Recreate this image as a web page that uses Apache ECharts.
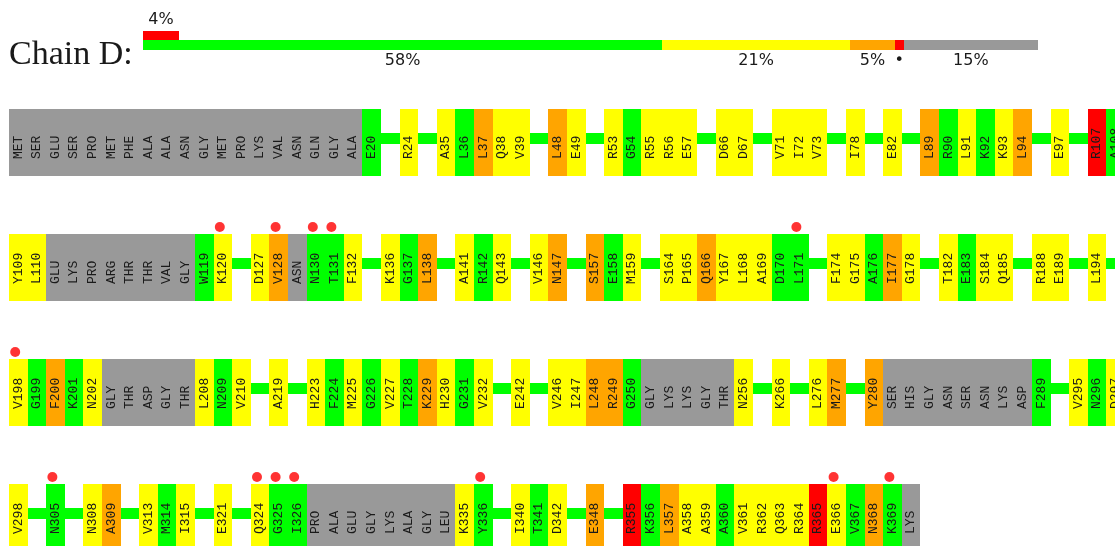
<!DOCTYPE html>
<html><head><meta charset="utf-8">
<script src="https://cdn.jsdelivr.net/npm/echarts@6/dist/echarts.min.js"></script>
<style>html,body{margin:0;padding:0;background:#fff}#c{width:1115px;height:546px}</style>
</head><body><div id="c"></div>
<script>
// ---------------- data ----------------
const chainLabel = 'Chain D:';
const summaryClasses = ['g', 'y', 'o', 'r', 'x'];
const summaryPercents = [58, 21, 5, 1, 15];
const summaryLabels = ['58%', '21%', '5%', '•', '15%'];
const outlierPercent = 4;
const outlierLabel = '4%';

const row1Residues = ['MET','SER','GLU','SER','PRO','MET','PHE','ALA','ALA','ASN','GLY','MET','PRO','LYS','VAL','ASN','GLN','GLY','ALA','E20','','R24','','A35','L36','L37','Q38','V39','','L48','E49','','R53','G54','R55','R56','E57','','D66','D67','','V71','I72','V73','','I78','','E82','','L89','R90','L91','K92','K93','L94','','E97','','R107','A108'];
const row1Quality  = ['x','x','x','x','x','x','x','x','x','x','x','x','x','x','x','x','x','x','x','g','-','y','-','y','g','o','y','y','-','o','y','-','y','g','y','y','y','-','y','y','-','y','y','y','-','y','-','y','-','o','g','y','g','y','o','-','y','-','r','g'];

const row2Residues = ['Y109','L110','GLU','LYS','PRO','ARG','THR','THR','VAL','GLY','W119','K120','','D127','V128','ASN','N130','T131','F132','','K136','G137','L138','','A141','R142','Q143','','V146','N147','','S157','E158','M159','','S164','P165','Q166','Y167','L168','A169','D170','L171','','F174','G175','A176','I177','G178','','T182','E183','S184','Q185','','R188','E189','','L194',''];
const row2Quality  = ['y','y','x','x','x','x','x','x','x','x','g','y','-','y','o','x','g','g','y','-','y','g','o','-','y','g','y','-','y','o','-','o','g','y','-','y','y','o','y','y','y','g','g','-','y','y','g','o','y','-','y','g','y','y','-','y','y','-','y','-'];

const row3Residues = ['V198','G199','F200','K201','N202','GLY','THR','ASP','GLY','THR','L208','N209','V210','','A219','','H223','F224','M225','G226','V227','T228','K229','H230','G231','V232','','E242','','V246','I247','L248','R249','G250','GLY','LYS','LYS','GLY','THR','N256','','K266','','L276','M277','','Y280','SER','HIS','GLY','ASN','SER','ASN','LYS','ASP','F289','','V295','N296','D297'];
const row3Quality  = ['y','g','o','g','y','x','x','x','x','x','y','g','y','-','y','-','y','g','y','g','y','g','o','y','g','y','-','y','-','y','y','o','o','g','x','x','x','x','x','y','-','y','-','y','o','-','o','x','x','x','x','x','x','x','x','g','-','y','g','y'];

const row4Residues = ['V298','','N305','','N308','A309','','V313','M314','I315','','E321','','Q324','G325','I326','PRO','ALA','GLU','GLY','LYS','ALA','GLY','LEU','K335','Y336','','I340','T341','D342','','E348','','R355','K356','L357','A358','A359','A360','V361','R362','Q363','R364','R365','E366','V367','N368','K369','LYS'];
const row4Quality  = ['y','-','g','-','y','o','-','y','g','y','-','y','-','y','g','g','x','x','x','x','x','x','x','x','y','g','-','y','g','y','-','o','-','r','g','o','y','y','g','y','y','y','y','r','y','g','o','g','x'];

const geometryOutliers = ['K120','V128','N130','T131','L171','V198','N305','Q324','G325','I326','Y336','E366','K369'];

// ---------------- styling / layout constants ----------------
const COLORS = { g: '#00ff00', y: '#ffff00', o: '#ffa500', r: '#ff0000', x: '#999999' };
const W = 1115, H = 546;
const GRID_LEFT = 8.9, GRID_TOP = 109;
const SLOT_PX = 18.6;     // width of one residue slot
const ROW_PX = 125;       // vertical pitch of the residue rows
const ROW_BOX = 67 / ROW_PX;

const rows = [
  { res: row1Residues, q: row1Quality },
  { res: row2Residues, q: row2Quality },
  { res: row3Residues, q: row3Quality },
  { res: row4Residues, q: row4Quality }
];
const cells = [];
rows.forEach((row, r) => row.res.forEach((name, i) => cells.push({ i, r, name, q: row.q[i] })));
const cellData = cells.map(c => [c.i, c.r]);
const dotData = [];
rows.forEach((row, r) => row.res.forEach((name, i) => {
  if (geometryOutliers.includes(name)) dotData.push([i + 0.5, r]);
}));

const segs = [];
let acc = 0;
summaryPercents.forEach((p, k) => {
  segs.push({ a: acc, b: acc + p, row: 1, color: COLORS[summaryClasses[k]], label: summaryLabels[k] });
  acc += p;
});
segs.push({ a: 0, b: outlierPercent, row: 0, color: COLORS.r, label: outlierLabel });
const segData = segs.map(s => [s.a, s.row]);

function renderCell(params, api) {
  const c = cells[params.dataIndex];
  const tl = api.coord([c.i, c.r]);
  const br = api.coord([c.i + 1, c.r + ROW_BOX]);
  const x0 = Math.round(tl[0]), x1 = Math.round(br[0]);
  const y0 = Math.round(tl[1]), y1 = Math.round(br[1]);
  const h = y1 - y0;
  if (c.q === '-') {
    const cy = Math.round(y0 + h * 0.354);
    return { type: 'rect', shape: { x: x0, y: cy, width: x1 - x0, height: 11 },
      style: { fill: COLORS.g } };
  }
  return { type: 'group', children: [
    { type: 'rect', shape: { x: x0, y: y0, width: x1 - x0, height: h }, style: { fill: COLORS[c.q] } },
    { type: 'text', x: (tl[0] + br[0]) / 2, y: y1 - h * 0.254, rotation: Math.PI / 2,
      style: { text: c.name, fill: '#1a1a1a', font: '13px "Liberation Mono", monospace', align: 'left', verticalAlign: 'middle' } }
  ] };
}

function renderSeg(params, api) {
  const s = segs[params.dataIndex];
  const tl = api.coord([s.a, s.row]);
  const br = api.coord([s.b, s.row + 1]);
  const x0 = Math.round(tl[0]), x1 = Math.round(br[0]);
  const ly = s.row === 0 ? tl[1] - 11 : br[1] + 11;
  return { type: 'group', children: [
    { type: 'rect', shape: { x: x0, y: Math.round(tl[1]), width: x1 - x0, height: Math.round(br[1]) - Math.round(tl[1]) }, style: { fill: s.color } },
    { type: 'text', x: (tl[0] + br[0]) / 2, y: ly,
      style: { text: s.label, fill: '#1a1a1a', font: '16px "DejaVu Sans", sans-serif', align: 'center', verticalAlign: 'middle' } }
  ] };
}

const chart = echarts.init(document.getElementById('c'), null, { renderer: 'canvas' });
chart.setOption({
  animation: false,
  backgroundColor: '#ffffff',
  graphic: [{ type: 'text', left: 9, top: 38,
    style: { text: chainLabel, fill: '#1a1a1a', font: '34px "Liberation Serif", serif' } }],
  grid: [
    { left: GRID_LEFT, top: GRID_TOP, right: 0, bottom: 0 },
    { left: 143, top: 30.5, width: 895, height: 19.5 }
  ],
  xAxis: [
    { type: 'value', gridIndex: 0, min: 0, max: (W - GRID_LEFT) / SLOT_PX, show: false },
    { type: 'value', gridIndex: 1, min: 0, max: 100, show: false }
  ],
  yAxis: [
    { type: 'value', gridIndex: 0, min: 0, max: (H - GRID_TOP) / ROW_PX, inverse: true, show: false },
    { type: 'value', gridIndex: 1, min: 0, max: 2, inverse: true, show: false }
  ],
  series: [
    { type: 'custom', xAxisIndex: 0, yAxisIndex: 0, data: cellData, renderItem: renderCell, clip: false, silent: true },
    { type: 'scatter', xAxisIndex: 0, yAxisIndex: 0, data: dotData, symbol: 'circle', symbolSize: 10,
      symbolOffset: [-3, -7], itemStyle: { color: '#ff0000' }, silent: true, z: 5 },
    { type: 'custom', xAxisIndex: 1, yAxisIndex: 1, data: segData, renderItem: renderSeg, clip: false, silent: true }
  ]
});
</script></body></html>
